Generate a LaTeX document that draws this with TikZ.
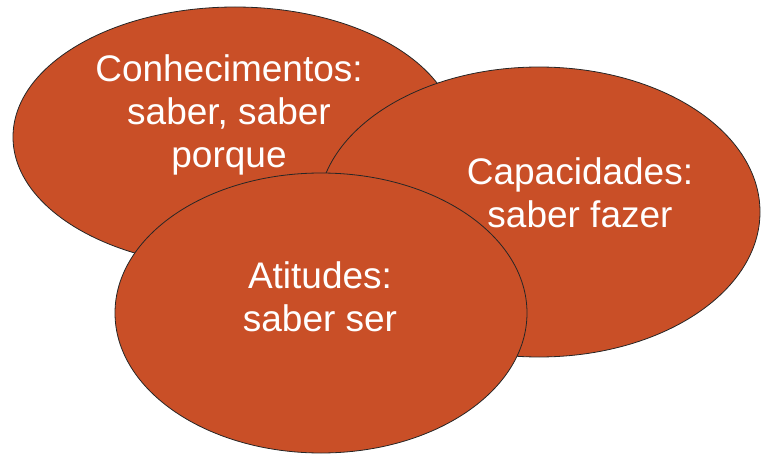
\documentclass[tikz,border=0pt]{standalone}
\usepackage{fontspec}
\setmainfont{Liberation Sans}
\usepackage{xcolor}
\definecolor{tijolo}{RGB}{201,79,39}

\begin{document}
\begin{tikzpicture}[x=1pt,y=1pt,
    blob/.style={draw=black!85, line width=0.8pt, fill=tijolo},
    rotulo/.style={text=white, align=center, font=\fontsize{37}{43}\selectfont}]

    \useasboundingbox (0,0) rectangle (763,456);

    \draw[blob] (235,319) ellipse [x radius=222, y radius=130];
    \node[rotulo] (conhec) at (229,341) {Conhecimentos:\\saber, saber\\porque};

    \draw[blob] (539,244) ellipse [x radius=221, y radius=145];
    \node[rotulo] (capac) at (580,263) {Capacidades:\\saber fazer};

    \draw[blob] (321,143) ellipse [x radius=206, y radius=140];
    \node[rotulo] (atit) at (320,159) {Atitudes:\\saber ser};

\end{tikzpicture}
\end{document}
